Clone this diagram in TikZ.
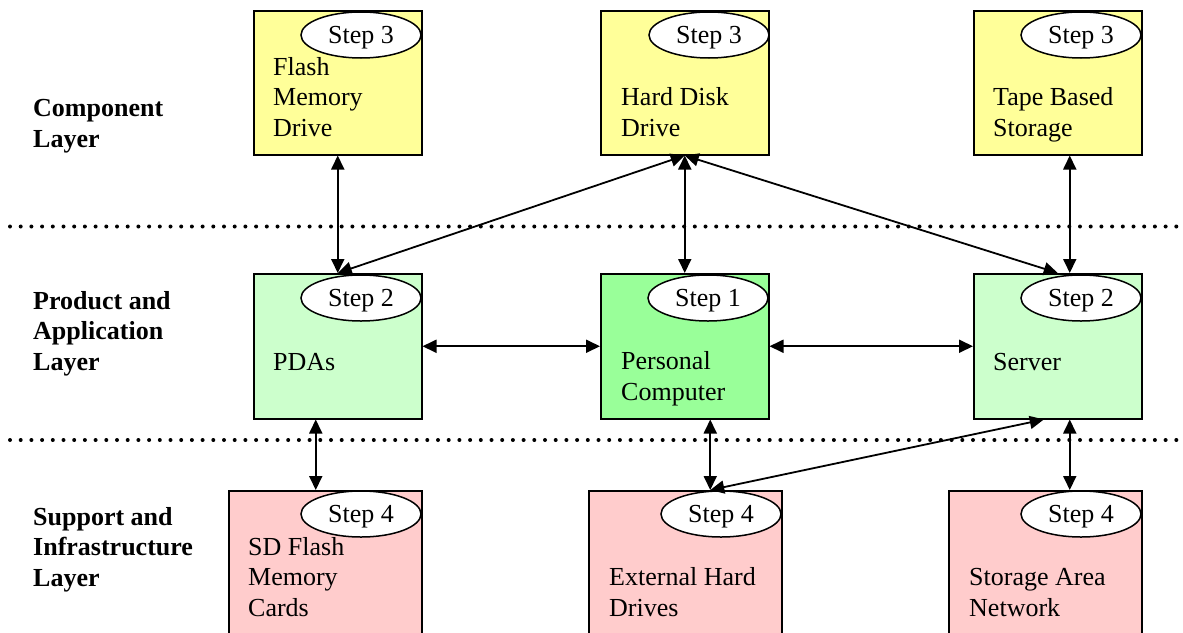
\documentclass[tikz,border=0pt]{standalone}
\usepackage{fontspec}
\setmainfont{Liberation Serif}
\usetikzlibrary{arrows.meta,shapes.geometric}
\definecolor{compY}{HTML}{FFFF99}
\definecolor{prodG}{HTML}{CCFFCC}
\definecolor{pcG}{HTML}{99FF99}
\definecolor{suppR}{HTML}{FFCCCC}
\tikzset{
  box/.style={draw=black, line width=1.5pt, rectangle, minimum width=168pt, minimum height=144pt, anchor=north west, inner sep=0pt},
  stepell/.style={draw=black, line width=1.5pt, fill=white, ellipse, minimum width=120pt, minimum height=46pt, inner sep=0pt, text depth=0pt, font=\fontsize{26}{30.5}\selectfont},
  boxtext/.style={anchor=base west, inner sep=0pt, align=left, font=\fontsize{26}{30.5}\selectfont},
  laytext/.style={anchor=base west, inner sep=0pt, align=left, font=\fontsize{26}{30.5}\selectfont\bfseries},
  arr/.style={line width=1.8pt, {Triangle[length=14pt,width=13pt]}-{Triangle[length=14pt,width=13pt]}},
  sep/.style={line width=4pt, line cap=round, dash pattern=on 0pt off 10.7pt}
}
\begin{document}
\begin{tikzpicture}[x=1pt,y=-1pt]
\useasboundingbox (0,0) rectangle (1183,632);
% separators
\draw[sep] (10,226.5) -- (1183,226.5);
\draw[sep] (10,440) -- (1183,440);
% layer labels (anchored at the baseline of the last line)
\node[laytext] (lc) at (33,147) {Component\\Layer};
\node[laytext] (lp) at (33,370) {Product and\\Application\\Layer};
\node[laytext] (ls) at (33,586) {Support and\\Infrastructure\\Layer};
% component layer
\node[box, fill=compY] (flash) at (253,10) {};
\node[box, fill=compY] (hdd) at (600,10) {};
\node[box, fill=compY] (tape) at (973,10) {};
\node[stepell] (e1) at (361,35) {Step 3};
\node[stepell] (e2) at (709,35) {Step 3};
\node[stepell] (e3) at (1081,35) {Step 3};
\node[boxtext] (t1) at (273,136) {Flash\\Memory\\Drive};
\node[boxtext] (t2) at (621,136) {Hard Disk\\Drive};
\node[boxtext] (t3) at (993,136) {Tape Based\\Storage};
% product layer
\node[box, fill=prodG, minimum height=145pt] (pdas) at (253,273) {};
\node[box, fill=pcG, minimum height=145pt] (pc) at (600,273) {};
\node[box, fill=prodG, minimum height=145pt] (server) at (973,273) {};
\node[stepell] (e4) at (361,298) {Step 2};
\node[stepell] (e5) at (708,298) {Step 1};
\node[stepell] (e6) at (1081,298) {Step 2};
\node[boxtext] (t4) at (273,370) {PDAs};
\node[boxtext] (t5) at (621,400) {Personal\\Computer};
\node[boxtext] (t6) at (993,370) {Server};
% support layer
\node[box, fill=suppR, minimum width=193pt, minimum height=160pt] (sd) at (228,490) {};
\node[box, fill=suppR, minimum width=193pt, minimum height=160pt] (ext) at (588,490) {};
\node[box, fill=suppR, minimum width=193pt, minimum height=160pt] (san) at (948,490) {};
\node[stepell] (e7) at (361,514) {Step 4};
\node[stepell] (e8) at (721,514) {Step 4};
\node[stepell] (e9) at (1081,514) {Step 4};
\node[boxtext] (t7) at (248,616) {SD Flash\\Memory\\Cards};
\node[boxtext] (t8) at (609,616) {External Hard\\Drives};
\node[boxtext] (t9) at (969,616) {Storage Area\\Network};
% connectors
\draw[arr] (flash.south) -- (pdas.north);
\draw[arr] (hdd.south) -- (pc.north);
\draw[arr] (hdd.south) -- (pdas.north);
\draw[arr] (hdd.south) -- (server.north);
\coordinate (c1) at ([xshift=12pt]tape.south);
\draw[arr] (c1) -- (c1 |- server.north);
\draw[arr] (pdas.east) -- (pc.west);
\draw[arr] (pc.east) -- (server.west);
\coordinate (c2) at ([xshift=-22pt]pdas.south);
\draw[arr] (c2) -- (c2 |- sd.north);
\coordinate (c3) at ([xshift=25.5pt]pc.south);
\draw[arr] (c3) -- (c3 |- ext.north);
\coordinate (c4) at ([xshift=-14pt]server.south);
\draw[arr] (c4) -- (c3 |- ext.north);
\coordinate (c5) at ([xshift=12pt]server.south);
\draw[arr] (c5) -- (c5 |- san.north);
\end{tikzpicture}
\end{document}
